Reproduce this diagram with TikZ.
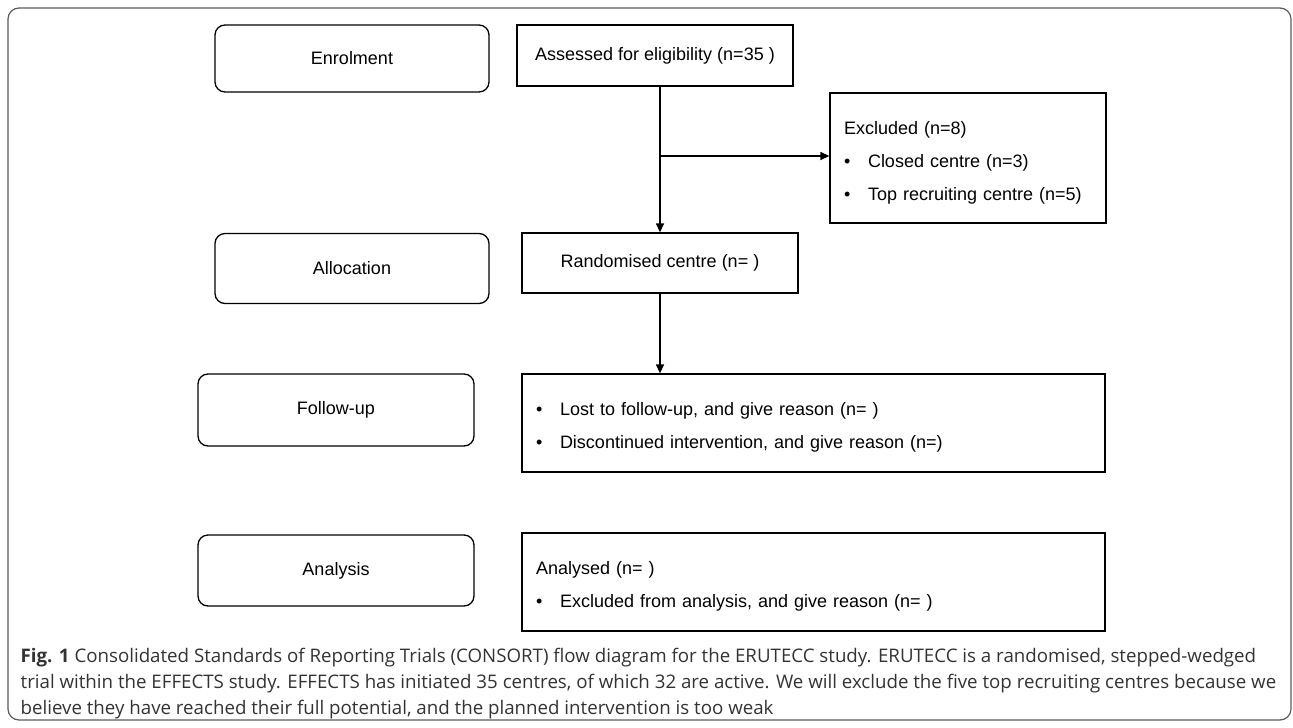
\documentclass[tikz,border=0pt]{standalone}
\usepackage{fontspec}
\setmainfont{Liberation Sans}
\newfontfamily\capfont{Open Sans}
\usetikzlibrary{arrows.meta}
\usetikzlibrary{positioning}
\usetikzlibrary{calc}

\definecolor{framegray}{HTML}{5A5A5A}
\definecolor{captext}{HTML}{333333}
\newcommand{\blt}{\makebox[24pt][l]{\textbullet}}
\newcommand{\topgap}{\rule{0pt}{22pt}}

\begin{document}
\begin{tikzpicture}[->,>={Triangle[length=9pt,width=8pt]},x=1pt,y=-1pt,
			line width=1.3pt]
			\tikzstyle{phase}=[draw,rounded corners=10pt,minimum width=274pt,minimum height=70pt,
			inner sep=0pt,font=\fontsize{18}{22}\selectfont]
			\tikzstyle{flowbox}=[draw,minimum width=276pt,minimum height=60pt,inner sep=0pt,
			font=\fontsize{18}{22}\selectfont]
			\tikzstyle{listbox}=[draw,align=left,inner xsep=14pt,inner ysep=0pt,
			font=\fontsize{18}{33}\selectfont]
			\tikzstyle{caption}=[anchor=base west,inner sep=0pt,text=captext,
			font=\capfont\fontsize{18.7}{26}\selectfont]
			
			\useasboundingbox (0,0) rectangle (1293,728);
			\draw[-,framegray,line width=1.2pt,rounded corners=11pt] (8,8) rectangle (1291,720);
			
			% left column
			\node[phase,minimum height=67pt] (enrol)    at (352,58.5)  {Enrolment};
			\node[phase]                     (alloc)    at (352,268.5) {Allocation};
			\node[phase,minimum width=276pt,minimum height=72pt] (follow) at (336,410) {Follow-up};
			\node[phase,minimum width=276pt,minimum height=71pt] (analysis) at (336,570.5) {Analysis};
			
			% flow
			\node[flowbox,minimum height=61pt] (assess) at (655,55.5) {Assessed for eligibility (n=35 )};
			\node[flowbox]                     (random) at (660,263)  {\raisebox{-3pt}{Randomised centre (n= )}};
			\node[listbox,text width=248pt,minimum height=130pt] (excl) at (968,158)
			{\topgap Excluded (n=8)\\\blt Closed centre (n=3)\\\blt Top recruiting centre (n=5)};
			\node[listbox,text width=555pt,minimum height=98pt] (lost) at (813.5,423)
			{\topgap\blt Lost to follow-up, and give reason (n= )\\\blt Discontinued intervention, and give reason (n=)};
			\node[listbox,text width=555pt,minimum height=98pt] (analysed) at (813.5,582)
			{\topgap Analysed (n= )\\\blt Excluded from analysis, and give reason (n= )};
			
			\coordinate (split) at (660,156);
			
			\draw (assess.south -| random.north) -- (random.north);
			\draw (split) -- (split -| excl.west);
			\draw (random.south) -- (random.south |- lost.north);
			
			% caption
			\node[caption] (cap1) at (20,662) {\textbf{Fig. 1} Consolidated Standards of Reporting Trials (CONSORT) flow diagram for the ERUTECC study. ERUTECC is a randomised, stepped-wedged};
			\node[caption] (cap2) at (20,688) {trial within the EFFECTS study. EFFECTS has initiated 35 centres, of which 32 are active. We will exclude the five top recruiting centres because we};
			\node[caption] (cap3) at (20,714) {believe they have reached their full potential, and the planned intervention is too weak};
			
			;
			\end{tikzpicture}
\end{document}
